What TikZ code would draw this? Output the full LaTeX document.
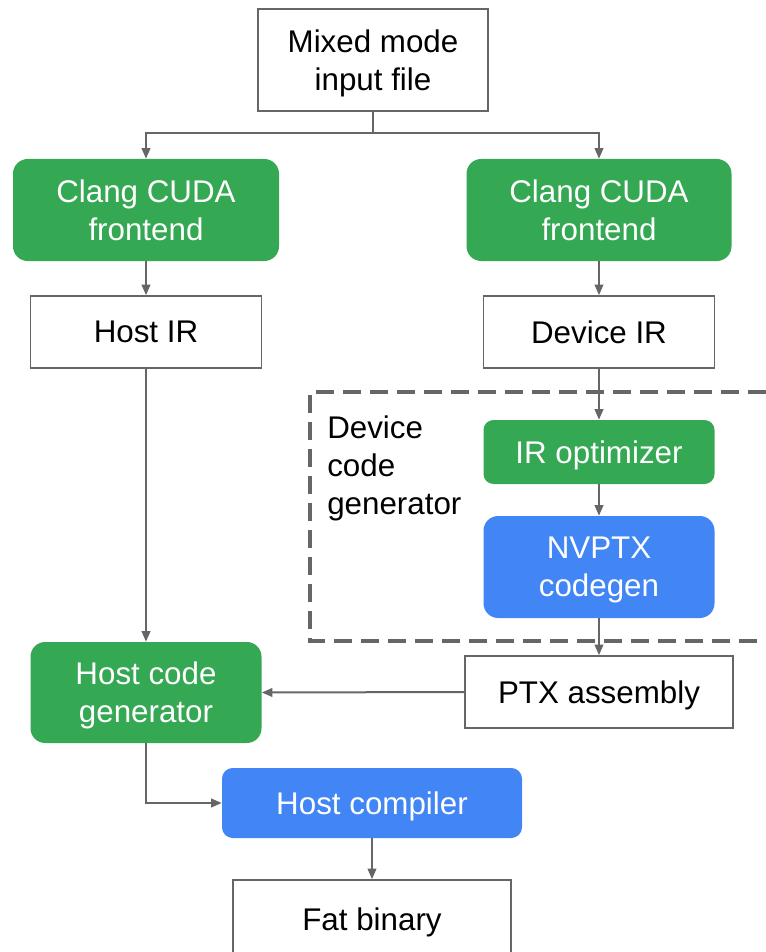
\documentclass[tikz,border=0pt]{standalone}
\usepackage{fontspec}
\setmainfont{Liberation Sans}
\usetikzlibrary{arrows.meta}
\definecolor{ggreen}{HTML}{34A853}
\definecolor{gblue}{HTML}{4285F4}
\definecolor{lgray}{HTML}{666666}
\begin{document}
\begin{tikzpicture}[x=0.75pt,y=-0.75pt,
  txt/.style={font=\fontsize{23.5}{28.5}\selectfont, align=center, inner sep=0pt, text depth=0pt},
  wbox/.style={txt, draw=lgray, line width=1.2pt, fill=white, text=black},
  gbox/.style={txt, fill=ggreen, text=white, rounded corners=11pt},
  bbox/.style={txt, fill=gblue, text=white, rounded corners=11pt},
  arr/.style={draw=lgray, line width=1.5pt, -{Triangle[length=8pt,width=6.5pt]}},
  dashbox/.style={draw=lgray, line width=3pt, dash pattern=on 13.5pt off 6.75pt}
]
\useasboundingbox (0,0) rectangle (766,952);

\node[wbox, minimum width=172.5pt, minimum height=76.5pt] (mixed) at (373,60) {Mixed mode\\input file};
\node[gbox, minimum width=199.5pt, minimum height=76.5pt] (clangL) at (146,210) {Clang CUDA\\frontend};
\node[gbox, minimum width=198.75pt, minimum height=76.5pt] (clangR) at (599,210) {Clang CUDA\\frontend};
\node[wbox, minimum width=173.25pt, minimum height=54pt] (hostir) at (146,332) {Host IR};
\node[wbox, minimum width=173.25pt, minimum height=54pt] (devir) at (599,332) {Device IR};

\draw[dashbox] (766,392) -- (310,392) -- (310,641) -- (766,641);
\node[txt, anchor=west, align=left, text depth=, font=\fontsize{23.5}{28.5}\selectfont] (dcg) at (327,468) {Device\\code\\generator};

\node[gbox, rounded corners=7.5pt, minimum width=173.25pt, minimum height=48pt] (iropt) at (599,452) {IR optimizer};
\node[bbox, minimum width=173.25pt, minimum height=76.5pt] (nvptx) at (599,567) {NVPTX\\codegen};
\node[wbox, minimum width=201pt, minimum height=54pt] (ptx) at (599,692) {PTX assembly};
\node[gbox, minimum width=173.25pt, minimum height=75.75pt] (hostgen) at (146,692.5) {Host code\\generator};
\node[bbox, rounded corners=8pt, minimum width=225pt, minimum height=52.5pt] (hostcomp) at (372,803) {Host compiler};
\node[wbox, minimum width=208.5pt, minimum height=58.5pt] (fat) at (372,919) {Fat binary};

\coordinate (split) at (373,133);
\draw[arr] (mixed.south) -- (split) -| (clangL.north);
\draw[arr] (split) -| (clangR.north);
\draw[arr] (clangL.south) -- (hostir.north);
\draw[arr] (clangR.south) -- (devir.north);
\draw[arr] (hostir.south) -- (hostgen.north);
\draw[arr] (devir.south) -- (iropt.north);
\draw[arr] (iropt.south) -- (nvptx.north);
\draw[arr] (nvptx.south) -- (ptx.north);
\draw[arr] (ptx.west) -- (hostgen.east);
\draw[arr] (hostgen.south) |- (hostcomp.west);
\draw[arr] (hostcomp.south) -- (fat.north);
\end{tikzpicture}
\end{document}
